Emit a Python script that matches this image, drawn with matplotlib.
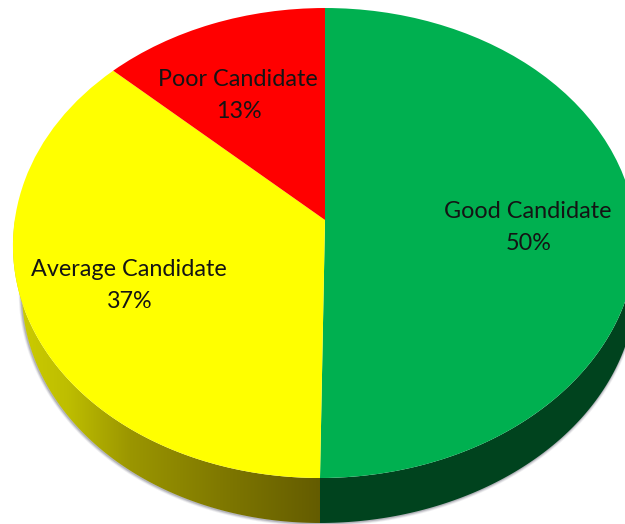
import numpy as np
import matplotlib
matplotlib.use('Agg')
import matplotlib.pyplot as plt
from matplotlib.patches import Polygon
from matplotlib.transforms import Transform

# Share of candidates, clockwise from the top
categories = ['Good Candidate', 'Average Candidate', 'Poor Candidate']
percents = [50, 37, 13]
colors = ['#00B050', '#FFFF00', '#FF0000']
label_x = [528, 129, 238]
label_y = [211, 269, 79]

# Side wall gradient of the yellow slice
wall_x = [15, 67, 130, 230, 320]
wall_r = [205, 190, 155, 125, 100]
wall_g = [205, 190, 150, 118, 92]
green_wall = '#00431E'


class TiltTransform(Transform):
    # flat unit circle -> pixel position of the tilted pie
    input_dims = 2
    output_dims = 2
    is_separable = False
    has_inverse = False

    def transform_non_affine(self, values):
        values = np.asarray(values, dtype=float)
        x, y = values[:, 0], values[:, 1]
        w = 1 + 0.0979 * y
        py = (220 - 211.2 * y) / w
        px = 325 + 310 * x / w - 0.0194 * np.maximum(py - 220, 0)
        return np.column_stack([px, py])


tilt = TiltTransform()


def rim(angles):
    a = np.radians(angles)
    return tilt.transform_non_affine(np.column_stack([np.cos(a), np.sin(a)]))


def wall(start, stop, left):
    # band between the top rim and the lower rim of the pie
    angles = np.linspace(start, stop, 120)
    top = rim(angles)
    low = top.copy()
    if left:
        low[:, 0] += 9 * np.abs(np.cos(np.radians(angles)))
    low[:, 1] += 45
    return np.vstack([top, low[::-1]]), low


fig = plt.figure(figsize=(6.25, 5.24), dpi=100)
ax = fig.add_axes([0, 0, 1, 1])

wedges, _ = ax.pie(percents, colors=colors, startangle=90, counterclock=False)
for w in wedges:
    w.set_transform(tilt + ax.transData)
    w.set_linewidth(0)
    w.set_zorder(5)

ax.set_aspect('auto')
ax.axis('off')

split = 90 - 360 * percents[0] / sum(percents)
left_poly, left_low = wall(split - 90, split, True)
right_poly, right_low = wall(split, split + 95, False)

# soft shadow under the lower edge
for grow, alpha in [(3, 0.10), (2, 0.15), (1, 0.25)]:
    for low in (left_low, right_low):
        ax.plot(low[:, 0] - 0.5, low[:, 1] + 0.5, color='#555566', lw=grow * 1.3,
                alpha=alpha, zorder=1, solid_capstyle='butt')

xs = np.arange(0, 326)
grad = np.zeros((1, len(xs), 3))
grad[0, :, 0] = np.interp(xs, wall_x, wall_r) / 255
grad[0, :, 1] = np.interp(xs, wall_x, wall_g) / 255
img = ax.imshow(grad, extent=(0, 325, 524, 0), aspect='auto', zorder=2)
img.set_clip_path(Polygon(left_poly, closed=True, transform=ax.transData))
ax.add_patch(Polygon(right_poly, closed=True, fc=green_wall, ec='none', zorder=3))
ax.set_xlim(0, 625)
ax.set_ylim(524, 0)

for name, pct, x, y in zip(categories, percents, label_x, label_y):
    ax.text(x, y, name, ha='center', va='center', fontsize=16.8,
            family='Lato', color='#141414', zorder=6)
    ax.text(x + 1, y + 33, f'{pct}%', ha='center', va='center', fontsize=16.8,
            family='Lato', color='#141414', zorder=6)

fig.savefig('out.png', dpi=100, facecolor='white')
